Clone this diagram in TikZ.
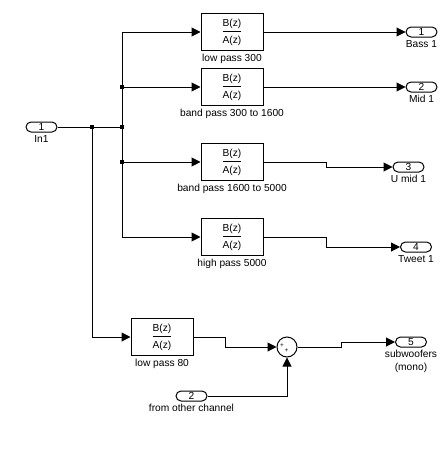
\documentclass[tikz,border=0pt]{standalone}
\usepackage{fontspec}
\setmainfont{Liberation Sans}
\usetikzlibrary{arrows.meta,shapes.misc}
\newcommand{\bza}{\begin{tabular}{@{}c@{}}B(z)\\[1pt]\hline\rule{0pt}{11.5pt}A(z)\end{tabular}}
\begin{document}
\begin{tikzpicture}[x=1pt,y=-1pt]
\tikzstyle{every node}+=[font=\fontsize{10.2}{13}\selectfont]
\tikzstyle{port}=[draw,rounded rectangle,minimum width=31pt,minimum height=10pt,inner sep=0pt,line width=1pt]
\tikzstyle{tf}=[draw,rectangle,minimum width=62pt,minimum height=37pt,inner sep=0pt,line width=1pt]
\tikzstyle{lbl}=[inner sep=2.5pt]
\tikzstyle{wire}=[line width=1pt]
\tikzstyle{sig}=[wire,-{Triangle[length=9pt,width=9pt]}]
\tikzstyle{dot}=[fill,rectangle,minimum size=3.5pt,inner sep=0pt]
\useasboundingbox (0,0) rectangle (447,450);
\node [port] (in1) at (41.5,127) {1};
\node [lbl,below] (in1l) at (in1.south) {In1};
\node [tf] (lp300) at (232,32) {\bza};
\node [lbl,below] (lp300l) at (lp300.south) {low pass 300};
\node [tf] (bp1) at (232,87) {\bza};
\node [lbl,below] (bp1l) at (bp1.south) {band pass 300 to 1600};
\node [tf] (bp2) at (232,162) {\bza};
\node [lbl,below] (bp2l) at (bp2.south) {band pass 1600 to 5000};
\node [tf] (hp) at (232,237) {\bza};
\node [lbl,below] (hpl) at (hp.south) {high pass 5000};
\node [tf] (lp80) at (162,337) {\bza};
\node [lbl,below] (lp80l) at (lp80.south) {low pass 80};
\node [draw,circle,minimum size=20pt,inner sep=0pt,line width=1pt] (sum) at (287,347) {};
\node [inner sep=0pt,font=\fontsize{6.5}{6.5}\selectfont] (sump1) at (282,345.5) {+};
\node [inner sep=0pt,font=\fontsize{6.5}{6.5}\selectfont] (sump2) at (286.5,351) {+};
\node [port] (in2) at (191.5,396) {2};
\node [lbl,below] (in2l) at (in2.south) {from other channel};
\node [port] (out1) at (421.5,32) {1};
\node [lbl,below] (out1l) at (out1.south) {Bass 1};
\node [port] (out2) at (421.5,87) {2};
\node [lbl,below] (out2l) at (out2.south) {Mid 1};
\node [port] (out3) at (408.5,167) {3};
\node [lbl,below] (out3l) at (out3.south) {U mid 1};
\node [port] (out4) at (416,247) {4};
\node [lbl,below] (out4l) at (out4.south) {Tweet 1};
\node [port] (out5) at (411,342) {5};
\node [lbl,below,align=center] (out5l) at (out5.south) {subwoofers\\(mono)};
\coordinate (ja) at (92,127);
\coordinate (jb) at (122,127);
\draw [wire] (in1.east) -- (jb);
\draw [sig] (jb) |- (lp300.west);
\draw [sig] (jb) |- (bp1.west);
\draw [sig] (jb) |- (bp2.west);
\draw [sig] (jb) |- (hp.west);
\draw [sig] (ja) |- (lp80.west);
\node [dot] (d1) at (ja) {};
\node [dot] (d2) at (jb) {};
\node [dot] (d3) at (jb |- bp1.west) {};
\node [dot] (d4) at (jb |- bp2.west) {};
\draw [sig] (lp300.east) -- (out1.west);
\draw [sig] (bp1.east) -- (out2.west);
\draw [sig] (bp2.east) -- +(63,0) |- (out3.west);
\draw [sig] (hp.east) -- +(63,0) |- (out4.west);
\draw [sig] (lp80.east) -- +(32,0) |- (sum.west);
\draw [sig] (in2.east) -| (sum.south);
\draw [sig] (sum.east) -- +(44,0) |- (out5.west);
\end{tikzpicture}
\end{document}
